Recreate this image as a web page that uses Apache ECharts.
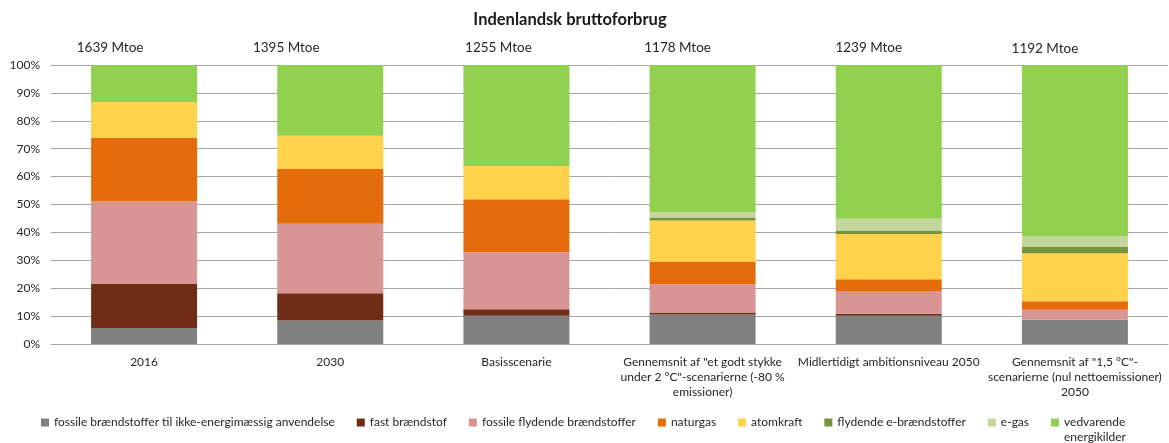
<!DOCTYPE html>
<html>
<head>
<meta charset="utf-8">
<script src="https://cdn.jsdelivr.net/npm/echarts@6/dist/echarts.min.js"></script>
<style>
  html, body { margin: 0; padding: 0; background: #ffffff; }
  #chart { width: 1169px; height: 443px; }
</style>
</head>
<body>
<div id="chart"></div>
<script>
// ---- data ----
const categories = [
  '2016',
  '2030',
  'Basisscenarie',
  'Gennemsnit af "et godt stykke\nunder 2 °C"-scenarierne (-80 %\nemissioner)',
  'Midlertidigt ambitionsniveau 2050',
  'Gennemsnit af "1,5 °C"-\nscenarierne (nul nettoemissioner)\n2050'
];
const totalsMtoe = [1639, 1395, 1255, 1178, 1239, 1192];

const seriesNames = [
  'fossile brændstoffer til ikke-energimæssig anvendelse',
  'fast brændstof',
  'fossile flydende brændstoffer',
  'naturgas',
  'atomkraft',
  'flydende e-brændstoffer',
  'e-gas',
  'vedvarende energikilder'
];
const fossilNonEnergy = [5.7, 8.4, 10.1, 10.6, 10.1, 8.7];
const solidFuel       = [15.8, 9.8, 2.4, 0.7, 0.7, 0.0];
const fossilLiquid    = [29.6, 24.9, 20.4, 10.1, 8.2, 3.6];
const naturalGas      = [22.7, 19.6, 19.0, 8.2, 4.2, 3.0];
const nuclear         = [12.9, 11.9, 11.9, 14.7, 16.2, 17.2];
const liquidEFuels    = [0, 0, 0, 1.0, 1.3, 2.3];
const eGas            = [0, 0, 0, 1.9, 4.2, 3.7];
const renewables      = [13.3, 25.4, 36.2, 52.8, 55.1, 61.4];

const yTicks = { min: 0, max: 100, interval: 10 };

// ---- styling (kept apart from data) ----
const colors = ['#808080', '#6f2d18', '#d99594', '#e46c0a', '#fed24a', '#77933c', '#c3d69b', '#92d050'];
const mtoeLabelShift = [-34, -44, -18, -25, -20, -30];
const FONT = 'Lato, "Open Sans", sans-serif';
const TXT = '#262626';

const seriesValues = [fossilNonEnergy, solidFuel, fossilLiquid, naturalGas, nuclear, liquidEFuels, eGas, renewables];

const series = seriesValues.map((vals, si) => {
  const isTop = si === seriesValues.length - 1;
  return {
    name: seriesNames[si],
    type: 'bar',
    stack: 'total',
    barWidth: 106,
    itemStyle: { color: colors[si] },
    emphasis: { disabled: true },
    data: isTop
      ? vals.map((v, i) => ({ value: v, label: { offset: [mtoeLabelShift[i], 0] } }))
      : vals,
    label: isTop ? {
      show: true,
      position: 'top',
      distance: 10,
      fontFamily: FONT,
      fontSize: 13.5,
      color: TXT,
      formatter: p => totalsMtoe[p.dataIndex] + ' Mtoe'
    } : { show: false }
  };
});

const chart = echarts.init(document.getElementById('chart'), null, { renderer: 'canvas' });
chart.setOption({
  animation: false,
  backgroundColor: '#ffffff',
  title: {
    text: 'Indenlandsk bruttoforbrug',
    left: 570,
    top: 11,
    textAlign: 'center',
    padding: 0,
    textStyle: { fontFamily: FONT, fontSize: 16.5, fontWeight: 'bold', color: '#1a1a1a' }
  },
  grid: { left: 51, right: 1, top: 65, bottom: 99, containLabel: false },
  legend: {
    left: 41,
    top: 400,
    padding: 0,
    icon: 'rect',
    itemWidth: 8,
    itemHeight: 8,
    itemGap: 22,
    selectedMode: false,
    textStyle: { fontFamily: FONT, fontSize: 12, color: TXT, lineHeight: 15 },
    formatter: name => name === 'vedvarende energikilder' ? '\nvedvarende\nenergikilder' : name,
    data: seriesNames
  },
  xAxis: {
    type: 'category',
    data: categories,
    axisLine: { lineStyle: { color: '#a6a6a6', width: 1 } },
    axisTick: { show: false },
    axisLabel: {
      interval: 0,
      margin: 11,
      fontFamily: FONT,
      fontSize: 12,
      lineHeight: 15,
      color: TXT,
      align: 'center'
    }
  },
  yAxis: {
    type: 'value',
    min: yTicks.min,
    max: yTicks.max,
    interval: yTicks.interval,
    axisLine: { show: false },
    axisTick: { show: false },
    splitLine: { lineStyle: { color: '#a6a6a6', width: 1 } },
    axisLabel: {
      margin: 11,
      fontFamily: FONT,
      fontSize: 12,
      color: TXT,
      formatter: '{value}%'
    }
  },
  series: series
});
</script>
</body>
</html>
